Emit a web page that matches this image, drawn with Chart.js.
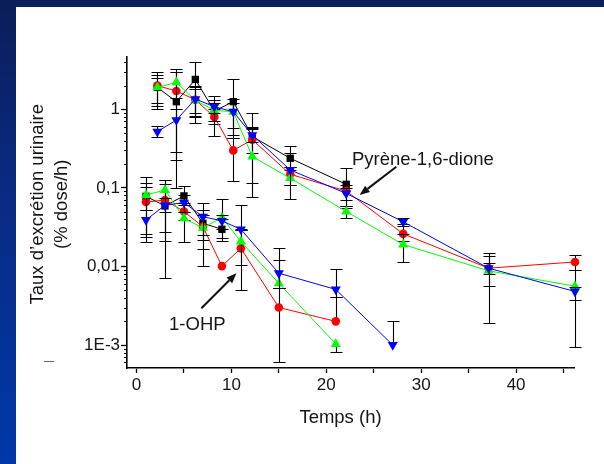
<!DOCTYPE html>
<html>
<head>
<meta charset="utf-8">
<script src="https://cdn.jsdelivr.net/npm/chart.js@4/dist/chart.umd.min.js"></script>
<style>
  html, body { margin: 0; padding: 0; }
  body {
    width: 604px; height: 464px; position: relative; overflow: hidden;
    background: linear-gradient(180deg, #0a1e58 0%, #0a2a80 40%, #0038a8 100%);
  }
  #panel { position: absolute; left: 16px; top: 7px; width: 588px; height: 457px; background: #fff; }
</style>
</head>
<body>
<div id="panel"><canvas id="excretionChart" width="588" height="457"></canvas></div>
<script>
// sampling times (h)
const dioneTimes = [2.2, 4.2, 6.2, 8.2, 10.2, 12.2, 16.2, 22.1, 28.1, 37.1, 46.2];
const ohpTimes = [1, 3, 5, 7, 9, 11, 15, 21, 27];

// Pyrène-1,6-dione (% dose/h), with upper / lower error limits
const dioneBlack   = [1.9, 1.25, 2.4, 0.95, 1.25, 0.45, 0.238, 0.111];
const dioneBlackHi = [2.73, 2.95, 4.0, 1.49, 2.43, 0.89, 0.344, 0.18];
const dioneBlackLo = [1.10, 0.226, 0.66, 0.46, 0.57, 0.077, 0.17, 0.055];

const dioneRed   = [2.0, 1.71, 1.32, 0.80, 0.30, 0.41, 0.149, 0.091, 0.026, 0.0095, 0.0114];
const dioneRedHi = [3.0, 2.95, 2.0, 1.0, 0.43, 0.60, 0.185, 0.11, 0.035, 0.015, 0.0141];
const dioneRedLo = [1.0, 0.29, 0.82, 0.65, 0.122, 0.276, 0.109, 0.058, 0.021, 0.0019, 0.0089];

const dioneGreen   = [1.9, 2.2, 1.3, 0.97, 0.93, 0.25, 0.133, 0.05, 0.019, 0.0088, 0.0056];
const dioneGreenHi = [2.52, 3.25, 1.9, 1.2, 1.34, 0.56, 0.185, 0.058, 0.026, 0.0134, 0.0089];
const dioneGreenLo = [1.19, 1.4, 0.9, 0.70, 0.47, 0.114, 0.072, 0.041, 0.0113, 0.0057, 0.00375];

const dioneBlue   = [0.52, 0.73, 1.35, 1.08, 0.93, 0.47, 0.169, 0.085, 0.037, 0.0095, 0.0048];
const dioneBlueHi = [0.61, 1.0, 1.8, 1.3, 1.2, 0.58, 0.276, 0.10, 0.041, 0.011, 0.0055];
const dioneBlueLo = [0.44, 0.1, 0.80, 0.9, 0.43, 0.38, 0.109, 0.07, 0.033, 0.008, 0.00095];

// 1-OHP (% dose/h)
const ohpBlack   = [0.078, 0.059, 0.079, 0.0354, 0.0297];
const ohpBlackHi = [0.117, 0.112, 0.107, 0.064, 0.040];
const ohpBlackLo = [0.026, 0.0071, 0.06, 0.0217, 0.021];

const ohpRed   = [0.066, 0.070, 0.050, 0.032, 0.0101, 0.017, 0.0030, 0.0020];
const ohpRedHi = [0.104, 0.126, 0.065, 0.045, null, 0.0605, 0.0053, 0.0041];
const ohpRedLo = [0.024, 0.0277, 0.0207, 0.0101, null, 0.005, 0.0006, null];

const ohpGreen   = [0.081, 0.094, 0.041, 0.031, 0.042, 0.0207, 0.0061, 0.00103];
const ohpGreenHi = [0.139, 0.126, 0.05, 0.052, 0.0716, 0.029, 0.0121, null];
const ohpGreenLo = [0.052, 0.0212, 0.039, 0.0166, 0.023, 0.0104, 0.0053, 0.00082];

const ohpBlue   = [0.039, 0.060, 0.065, 0.043, 0.038, 0.0297, 0.0082, 0.0051, 0.0010];
const ohpBlueHi = [0.052, 0.075, 0.08, 0.052, 0.045, 0.030, 0.0173, 0.0093, 0.0020];
const ohpBlueLo = [0.0207, 0.05, 0.05, 0.025, 0.03, 0.029, 0.0053, 0.0041, null];

// axis ticks
const xTicks = [0, 10, 20, 30, 40];
const xMinorTicks = [5, 15, 25, 35, 45];
const yTickValues = [0.001, 0.01, 0.1, 1];
const yTickLabels = ['1E-3', '0,01', '0,1', '1'];

const FONT = '"Liberation Sans", Arial, sans-serif';
const TEXT = '#151515';

function makeSeries(label, times, values, hi, lo, color, style, order) {
  const down = style === 'down';
  return {
    label: label,
    data: values.map((v, i) => ({ x: times[i], y: v, hi: hi[i], lo: lo[i] })),
    borderColor: color,
    backgroundColor: color,
    borderWidth: 1,
    pointStyle: down ? 'triangle' : style,
    pointRotation: down ? 180 : 0,
    pointRadius: style === 'circle' ? 4.3 : (style === 'rect' ? 5.2 : 5.8),
    pointHoverRadius: style === 'circle' ? 4.3 : 5.8,
    pointBorderWidth: 0,
    tension: 0,
    clip: false,
    order: order
  };
}

// error bars drawn under each series' own line and markers
const errorBars = {
  id: 'errorBars',
  beforeDatasetDraw(chart, args) {
    const ctx = chart.ctx;
    const y = chart.scales.y;
    const ds = chart.data.datasets[args.index];
    ctx.save();
    ctx.strokeStyle = '#000';
    ctx.lineWidth = 1.1;
    args.meta.data.forEach((pt, i) => {
      const d = ds.data[i];
      if (d.hi == null && d.lo == null) return;
      const px = Math.round(pt.x) + 0.5;
      const top = d.hi != null ? Math.round(y.getPixelForValue(d.hi)) + 0.5 : pt.y;
      const bot = d.lo != null ? Math.round(y.getPixelForValue(d.lo)) + 0.5 : pt.y;
      ctx.beginPath();
      ctx.moveTo(px, top);
      ctx.lineTo(px, bot);
      if (d.hi != null) { ctx.moveTo(px - 6, top); ctx.lineTo(px + 6, top); }
      if (d.lo != null) { ctx.moveTo(px - 6, bot); ctx.lineTo(px + 6, bot); }
      ctx.stroke();
    });
    ctx.restore();
  }
};

function drawArrow(ctx, x1, y1, x2, y2) {
  const a = Math.atan2(y2 - y1, x2 - x1);
  const head = 10, half = 4;
  const bx = x2 - head * Math.cos(a), by = y2 - head * Math.sin(a);
  ctx.beginPath();
  ctx.moveTo(x1, y1);
  ctx.lineTo(bx, by);
  ctx.stroke();
  ctx.beginPath();
  ctx.moveTo(x2, y2);
  ctx.lineTo(bx + half * Math.sin(a), by - half * Math.cos(a));
  ctx.lineTo(bx - half * Math.sin(a), by + half * Math.cos(a));
  ctx.closePath();
  ctx.fill();
}

// minor log ticks, axis titles and the two labelled arrows
const decorations = {
  id: 'decorations',
  afterDraw(chart) {
    const { ctx, chartArea, scales: { x, y } } = chart;
    ctx.save();

    ctx.strokeStyle = '#000';
    ctx.lineWidth = 1;
    y.ticks.forEach(t => {
      if (t.major) return;
      const py = Math.round(y.getPixelForValue(t.value)) + 0.5;
      ctx.beginPath();
      ctx.moveTo(chartArea.left - 3, py);
      ctx.lineTo(chartArea.left, py);
      ctx.stroke();
    });

    ctx.fillStyle = TEXT;
    ctx.font = '18.5px ' + FONT;
    ctx.textAlign = 'center';
    ctx.textBaseline = 'alphabetic';
    ctx.fillText('Temps (h)', 324.5, chartArea.bottom + 55.3);

    const cy = (chartArea.top + chartArea.bottom) / 2 - 8.3;
    ctx.textBaseline = 'middle';
    [['Taux d\u2019excrétion urinaire', 22.3], ['(% dose/h)', 45.5]].forEach(([txt, tx]) => {
      ctx.save();
      ctx.translate(tx, cy);
      ctx.rotate(-Math.PI / 2);
      ctx.fillText(txt, 0, 0);
      ctx.restore();
    });

    ctx.textAlign = 'left';
    ctx.textBaseline = 'alphabetic';
    ctx.fillText('Pyrène-1,6-dione', x.getPixelForValue(22.7), y.getPixelForValue(0.1954));
    ctx.fillText('1-OHP', x.getPixelForValue(3.43), y.getPixelForValue(0.001556));

    ctx.strokeStyle = '#111';
    ctx.fillStyle = '#111';
    ctx.lineWidth = 2;
    drawArrow(ctx, x.getPixelForValue(27.38), y.getPixelForValue(0.186),
                   x.getPixelForValue(23.51), y.getPixelForValue(0.0812));
    drawArrow(ctx, x.getPixelForValue(6.84), y.getPixelForValue(0.00294),
                   x.getPixelForValue(10.53), y.getPixelForValue(0.00819));

    // stray mark left of the axis in the original figure
    ctx.strokeStyle = '#666';
    ctx.lineWidth = 1;
    ctx.beginPath();
    ctx.moveTo(28, 354.5);
    ctx.lineTo(38, 354.5);
    ctx.stroke();

    ctx.restore();
  }
};

new Chart(document.getElementById('excretionChart'), {
  type: 'line',
  data: {
    datasets: [
      makeSeries('Pyrène-1,6-dione A', dioneTimes, dioneBlack, dioneBlackHi, dioneBlackLo, '#000000', 'rect', 8),
      makeSeries('1-OHP A', ohpTimes, ohpBlack, ohpBlackHi, ohpBlackLo, '#000000', 'rect', 7),
      makeSeries('Pyrène-1,6-dione B', dioneTimes, dioneRed, dioneRedHi, dioneRedLo, '#ff0000', 'circle', 6),
      makeSeries('1-OHP B', ohpTimes, ohpRed, ohpRedHi, ohpRedLo, '#ff0000', 'circle', 5),
      makeSeries('Pyrène-1,6-dione C', dioneTimes, dioneGreen, dioneGreenHi, dioneGreenLo, '#00ff00', 'triangle', 4),
      makeSeries('1-OHP C', ohpTimes, ohpGreen, ohpGreenHi, ohpGreenLo, '#00ff00', 'triangle', 3),
      makeSeries('Pyrène-1,6-dione D', dioneTimes, dioneBlue, dioneBlueHi, dioneBlueLo, '#0000ff', 'down', 2),
      makeSeries('1-OHP D', ohpTimes, ohpBlue, ohpBlueHi, ohpBlueLo, '#0000ff', 'down', 1)
    ]
  },
  options: {
    responsive: false,
    animation: false,
    devicePixelRatio: 1,
    layout: { padding: { top: 50, right: 30, left: 0, bottom: 0 } },
    plugins: {
      legend: { display: false },
      tooltip: { enabled: false }
    },
    scales: {
      x: {
        type: 'linear',
        min: -1,
        max: 46.1,
        afterFit: scale => { scale.height = 96; },
        afterBuildTicks: scale => {
          scale.ticks = xTicks.concat(xMinorTicks).sort((a, b) => a - b)
            .map(v => ({ value: v, major: xTicks.includes(v) }));
        },
        border: { color: '#000', width: 1.6 },
        grid: { drawOnChartArea: false, drawTicks: true, tickLength: 5, tickColor: '#000', tickWidth: 1.3 },
        ticks: {
          autoSkip: false,
          maxRotation: 0,
          padding: 2,
          color: TEXT,
          font: { family: FONT, size: 17 },
          callback: v => xTicks.includes(v) ? String(v) : ''
        }
      },
      y: {
        type: 'logarithmic',
        min: 5.1e-4,
        max: 4.63,
        afterFit: scale => { scale.width = 111; },
        afterBuildTicks: scale => {
          const ticks = [];
          for (let e = -4; e <= 0; e++) {
            for (let m = 1; m <= 9; m++) {
              const v = m * Math.pow(10, e);
              if (v >= scale.min && v <= scale.max) ticks.push({ value: v, major: m === 1 });
            }
          }
          scale.ticks = ticks;
        },
        border: { color: '#000', width: 1.6 },
        grid: {
          drawOnChartArea: false,
          drawTicks: true,
          tickLength: 6,
          tickWidth: 1.3,
          tickColor: c => (c.tick && c.tick.major) ? '#000' : 'rgba(0,0,0,0)'
        },
        ticks: {
          autoSkip: false,
          padding: 1,
          color: TEXT,
          font: { family: FONT, size: 17 },
          callback: v => {
            const i = yTickValues.findIndex(t => Math.abs(v - t) / t < 1e-6);
            return i >= 0 ? yTickLabels[i] : '';
          }
        }
      }
    }
  },
  plugins: [errorBars, decorations]
});
</script>
</body>
</html>
